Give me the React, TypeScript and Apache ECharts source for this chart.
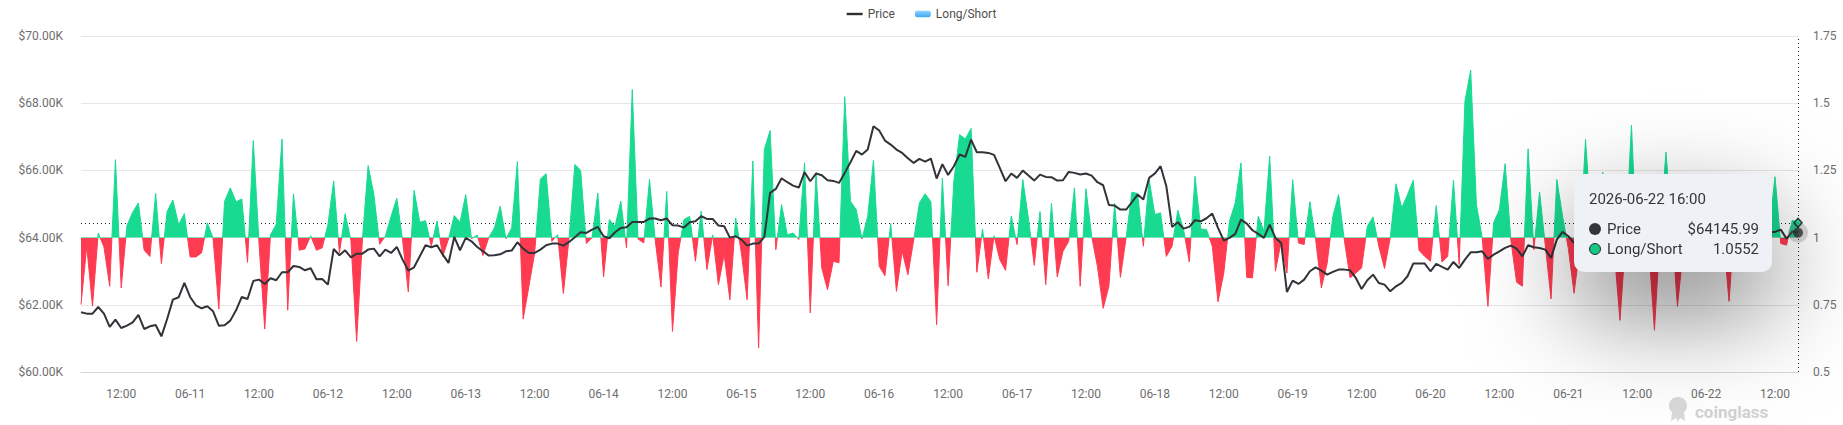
import React, { useEffect, useRef } from 'react';
import * as echarts from 'echarts';

// ---------- data ----------
const START_UTC = Date.UTC(2026, 5, 10, 5, 0); // first hourly point: 2026-06-10 05:00
const POINT_COUNT = 300;

const pad2 = (n: number) => (n < 10 ? '0' + n : '' + n);
function buildHourCategories(startUtc: number, count: number): string[] {
  const out: string[] = [];
  for (let i = 0; i < count; i++) {
    const d = new Date(startUtc + i * 3600 * 1000);
    out.push(
      `${d.getUTCFullYear()}-${pad2(d.getUTCMonth() + 1)}-${pad2(d.getUTCDate())} ${pad2(d.getUTCHours())}:00`
    );
  }
  return out;
}
const categories = buildHourCategories(START_UTC, POINT_COUNT);

const priceValues = [
  61776, 61737, 61737, 61935, 61737, 61340, 61558, 61310, 61380, 61479,
  61697, 61280, 61360, 61400, 61062, 61578, 62154, 62224, 62650, 62233,
  61985, 61896, 61955, 61806, 61380, 61390, 61529, 61836, 62233, 62174,
  62710, 62749, 62620, 62789, 62730, 62968, 62968, 63156, 63126, 63027,
  63087, 62760, 62770, 62600, 63662, 63474, 63623, 63414, 63523, 63523,
  63643, 63672, 63444, 63643, 63543, 63722, 63345, 63017, 63116, 63444,
  63772, 63712, 63772, 63494, 63246, 64020, 63623, 63990, 63891, 63722,
  63593, 63464, 63474, 63504, 63593, 63613, 63861, 63672, 63543, 63543,
  63643, 63772, 63821, 63821, 63762, 63871, 64010, 64159, 64139, 64238,
  64318, 64040, 63980, 64159, 64288, 64308, 64467, 64467, 64467, 64566,
  64566, 64516, 64566, 64367, 64357, 64298, 64457, 64486, 64635, 64556,
  64556, 64357, 64337, 64000, 64040, 63940, 63762, 63821, 63821, 64020,
  65330, 65449, 65767, 65648, 65548, 65489, 65946, 65677, 65906, 65856,
  65707, 65687, 65628, 65926, 66243, 66581, 66472, 66620, 67315, 67186,
  66888, 66769, 66620, 66521, 66362, 66223, 66343, 66263, 66352, 65757,
  66184, 65866, 66124, 66472, 66402, 66918, 66541, 66541, 66521, 66462,
  66074, 65677, 65906, 65777, 65995, 65846, 65697, 65876, 65806, 65797,
  65697, 65707, 65955, 65926, 65876, 65906, 65846, 65648, 65558, 64973,
  64953, 64834, 64834, 65052, 65280, 65131, 65777, 65906, 66124, 65529,
  64318, 64457, 64268, 64318, 64516, 64486, 64576, 64715, 64288, 63911,
  63990, 64109, 64536, 64417, 64218, 64109, 63990, 64387, 63990, 63841,
  62382, 62720, 62620, 62749, 62998, 63116, 63017, 62898, 62978, 63047,
  63047, 63027, 62800, 62471, 62730, 62898, 62650, 62600, 62402, 62551,
  62650, 62849, 63226, 63226, 63226, 62998, 63216, 63126, 63047, 63275,
  63097, 63345, 63563, 63563, 63593, 63365, 63494, 63593, 63692, 63762,
  63672, 63444, 63772, 63712, 63692, 63643, 63395, 63940, 64169, 64040,
  63841, 63950, 64080, 64020, 64150, 64230, 64120, 64050, 63890, 64010,
  64180, 64260, 64210, 64120, 63980, 64060, 64190, 64280, 64150, 64070,
  64110, 64220, 64300, 64260, 64170, 64090, 64140, 64030, 64110, 64200,
  64160, 64090, 64130, 64210, 64170, 64170, 64238, 63970, 64180, 64145.99,
];

const longShortValues = [
  0.751, 0.968, 0.745, 1.017, 0.965, 0.819, 1.29, 0.813, 1.045, 1.094,
  1.129, 0.953, 0.93, 1.164, 0.903, 1.097, 1.14, 1.048, 1.089, 0.928,
  0.928, 0.943, 1.055, 0.998, 0.734, 1.135, 1.185, 1.133, 1.144, 0.908,
  1.361, 0.98, 0.66, 1.01, 1.05, 1.367, 0.73, 1.163, 0.953, 0.958,
  1.007, 0.953, 0.962, 1.048, 1.211, 0.943, 1.089, 0.99, 0.614, 0.99,
  1.268, 1.16, 0.975, 1.005, 1.079, 1.146, 0.99, 0.798, 1.176, 1.057,
  1.063, 0.968, 1.062, 0.93, 0.995, 1.082, 1.057, 1.16, 0.996, 1.009,
  0.933, 1.0, 1.036, 1.117, 0.996, 1.036, 1.283, 0.697, 0.819, 0.943,
  1.218, 1.238, 0.986, 1.011, 0.792, 1.0, 1.272, 1.251, 0.978, 1.0,
  1.166, 0.854, 1.067, 1.042, 1.136, 0.962, 1.551, 0.995, 0.98, 1.216,
  0.99, 0.816, 1.172, 0.651, 0.943, 1.067, 1.079, 0.912, 1.098, 0.881,
  1.01, 0.825, 0.937, 0.769, 1.073, 0.943, 0.769, 1.285, 0.589, 1.328,
  1.398, 0.955, 1.123, 1.01, 1.017, 0.993, 1.278, 0.72, 1.241, 0.887,
  0.806, 0.912, 0.906, 1.524, 1.135, 1.104, 0.995, 1.079, 1.287, 0.893,
  0.858, 1.052, 0.8, 0.949, 0.862, 0.99, 1.129, 1.163, 1.133, 0.676,
  1.22, 0.821, 1.21, 1.383, 1.367, 1.406, 0.871, 1.032, 0.846, 1.007,
  0.918, 0.878, 1.08, 0.974, 1.216, 1.07, 0.897, 1.097, 0.825, 1.127,
  0.854, 0.949, 0.986, 1.185, 0.819, 1.182, 1.005, 0.893, 0.737, 0.819,
  1.127, 0.852, 1.0, 1.169, 1.164, 0.968, 1.216, 1.086, 1.092, 0.93,
  0.968, 1.102, 1.03, 0.909, 1.228, 1.032, 1.03, 0.968, 0.761, 0.868,
  1.061, 1.129, 1.278, 0.852, 0.85, 1.079, 1.024, 1.303, 0.875, 0.986,
  0.868, 1.216, 0.98, 0.974, 1.134, 0.993, 0.813, 0.903, 1.079, 1.16,
  0.99, 0.85, 0.868, 0.887, 1.042, 1.077, 0.968, 0.885, 1.0, 1.2,
  1.11, 1.16, 1.213, 0.953, 0.93, 0.912, 1.119, 0.909, 0.93, 1.213,
  0.9, 1.507, 1.623, 1.123, 1.0, 0.744, 1.055, 1.104, 1.275, 0.99,
  0.834, 0.819, 1.33, 0.955, 1.17, 0.97, 0.772, 1.216, 1.08, 0.96,
  0.793, 0.96, 1.365, 1.05, 0.93, 1.243, 1.08, 0.95, 0.692, 1.0,
  1.418, 0.94, 1.06, 0.97, 0.655, 1.02, 1.318, 1.05, 0.744, 0.95,
  1.1, 1.04, 0.93, 1.12, 0.97, 1.06, 1.0, 0.763, 1.08, 0.94,
  1.15, 0.98, 1.1, 0.92, 1.03, 1.2265, 0.978, 0.972, 1.065, 1.0552,
];

const seriesNames = ['Price', 'Long/Short'];
const priceAxisTicks = { min: 60000, max: 70000, interval: 2000 };
const ratioAxisTicks = { min: 0.5, max: 1.75, interval: 0.25 };
const LS_THRESHOLD = 1;
const HOVER_INDEX = POINT_COUNT - 1;

// ---------- styles ----------
const GREEN = '#16c784';
const RED = '#f5364a';
const PRICE_COLOR = '#2d2f33';
const LABEL_COLOR = '#6e6e6e';
const FONT = 'Roboto, "Noto Sans", sans-serif';

const LOGO_PATH =
  'M10 0C4 0 1 4 1 9C1 12 2 14 4 15L3 24L8 21L10 25L12 21L17 24L16 15C18 14 19 12 19 9C19 4 16 0 10 0Z';

export default function App() {
  const ref = useRef<HTMLDivElement | null>(null);

  useEffect(() => {
    if (!ref.current) return;
    const chart = echarts.init(ref.current, undefined, { renderer: 'svg' });

    const lsGradient = new echarts.graphic.LinearGradient(0, 0, 0, 1, [
      { offset: 0, color: '#8fd3ff' },
      { offset: 1, color: '#3fa6f6' },
    ]);

    const markerSeries = (name: string, yIdx: number, value: number, symbol: string, size: any, itemStyle: any, z: number) => ({
      name,
      type: 'scatter',
      yAxisIndex: yIdx,
      data: [[HOVER_INDEX, value]],
      symbol,
      symbolSize: size,
      itemStyle,
      z,
      silent: true,
      tooltip: { show: false },
      emphasis: { disabled: true },
    });

    const option: any = {
      animation: false,
      backgroundColor: '#ffffff',
      textStyle: { fontFamily: FONT },
      legend: {
        top: 3,
        left: 'center',
        itemWidth: 16,
        itemHeight: 8,
        itemGap: 20,
        selectedMode: false,
        textStyle: { color: '#4f4f4f', fontSize: 12, fontFamily: FONT },
        data: [
          {
            name: seriesNames[0],
            icon: 'path://M0 0H16V2.4H0Z',
            itemStyle: { color: PRICE_COLOR, borderWidth: 0 },
          },
          {
            name: seriesNames[1],
            icon: 'path://M2 0H13Q15 0 15 2V4Q15 6 13 6H2Q0 6 0 4V2Q0 0 2 0Z',
            itemStyle: { color: lsGradient, borderWidth: 0 },
          },
        ],
      },
      grid: { left: 81, right: 45, top: 36, bottom: 53, containLabel: false },
      tooltip: {
        trigger: 'axis',
        triggerOn: 'none',
        alwaysShowContent: true,
        transitionDuration: 0,
        showDelay: 0,
        position: () => [1574, 174],
        backgroundColor: '#eef1f5',
        borderWidth: 0,
        borderRadius: 10,
        padding: [15, 13, 13, 15],
        extraCssText: 'box-shadow: 0 40px 100px rgba(0,0,0,0.5); border-radius: 10px;',
        axisPointer: {
          type: 'cross',
          z: 1,
          crossStyle: { color: '#222', width: 1, type: [1, 3] },
          lineStyle: { color: '#222', width: 1, type: [1, 3] },
          label: { show: false },
        },
        formatter: (params: any) => {
          const list = Array.isArray(params) ? params : [params];
          const title = list[0].axisValue;
          const p = list.find((x: any) => x.seriesName === seriesNames[0]);
          const l = list.find((x: any) => x.seriesName === seriesNames[1]);
          const dot = (fill: string, border: string) =>
            `<span style="display:inline-block;box-sizing:border-box;width:12px;height:12px;border-radius:50%;background:${fill};border:${border};margin-right:6px;"></span>`;
          const row = (marker: string, name: string, val: string) =>
            `<div style="display:flex;justify-content:space-between;align-items:center;height:20px;">` +
            `<span style="display:flex;align-items:center;">${marker}<span>${name}</span></span><span>${val}</span></div>`;
          return (
            `<div style="width:170px;font-family:Roboto,'Noto Sans',sans-serif;font-size:15px;line-height:20px;color:#33363b;">` +
            `<div style="height:20px;margin-bottom:10px;">${title}</div>` +
            row(dot('#33353a', 'none'), seriesNames[0], '$' + Number(p ? p.value : 0).toFixed(2)) +
            row(dot(GREEN, '1.5px solid #2a2c30'), seriesNames[1], Number(l ? l.value : 0).toFixed(4)) +
            `</div>`
          );
        },
      },
      xAxis: {
        type: 'category',
        data: categories,
        boundaryGap: false,
        axisLine: { lineStyle: { color: '#d8d8d8', width: 1 } },
        axisTick: { show: false },
        splitLine: { show: false },
        axisLabel: {
          color: LABEL_COLOR,
          fontSize: 12,
          fontFamily: FONT,
          margin: 16,
          interval: (_i: number, v: string) => {
            const t = v.slice(11);
            return t === '00:00' || t === '12:00';
          },
          formatter: (v: string) => (v.slice(11) === '00:00' ? v.slice(5, 10) : v.slice(11)),
        },
      },
      yAxis: [
        {
          type: 'value',
          position: 'left',
          min: priceAxisTicks.min,
          max: priceAxisTicks.max,
          interval: priceAxisTicks.interval,
          axisLine: { show: false },
          axisTick: { show: false },
          splitLine: { show: true, lineStyle: { color: '#e6e6e6', width: 1 } },
          axisLabel: {
            color: LABEL_COLOR,
            fontSize: 12,
            fontFamily: FONT,
            margin: 18,
            formatter: (v: number) => '$' + (v / 1000).toFixed(2) + 'K',
          },
        },
        {
          type: 'value',
          position: 'right',
          min: ratioAxisTicks.min,
          max: ratioAxisTicks.max,
          interval: ratioAxisTicks.interval,
          axisLine: { show: false },
          axisTick: { show: false },
          splitLine: { show: false },
          axisLabel: { color: LABEL_COLOR, fontSize: 12, fontFamily: FONT, margin: 15 },
        },
      ],
      visualMap: [
        {
          type: 'piecewise',
          show: false,
          seriesIndex: 1,
          dimension: 1,
          pieces: [
            { gte: 0, lte: LS_THRESHOLD, color: RED },
            { gt: LS_THRESHOLD, lte: 5, color: GREEN },
          ],
          outOfRange: { color: GREEN },
        },
      ],
      series: [
        {
          name: seriesNames[0],
          type: 'line',
          yAxisIndex: 0,
          data: priceValues,
          symbol: 'none',
          showSymbol: false,
          z: 3,
          lineStyle: { color: PRICE_COLOR, width: 2 },
          itemStyle: { color: PRICE_COLOR },
        },
        {
          name: seriesNames[1],
          type: 'line',
          yAxisIndex: 1,
          data: longShortValues,
          symbol: 'none',
          showSymbol: false,
          z: 2,
          lineStyle: { width: 1 },
          areaStyle: { origin: LS_THRESHOLD, opacity: 1 },
        },
        markerSeries('priceHalo', 0, priceValues[HOVER_INDEX], 'circle', 20, { color: 'rgba(110,110,115,0.32)' }, 5),
        markerSeries('priceDot', 0, priceValues[HOVER_INDEX], 'circle', 10, { color: '#303236' }, 6),
        markerSeries('lsDiamond', 1, longShortValues[HOVER_INDEX], 'diamond', [8, 9], { color: GREEN, borderColor: '#111', borderWidth: 1.5 }, 7),
      ],
    };

    chart.setOption(option);

    try {
      chart.dispatchAction({ type: 'showTip', seriesIndex: 1, dataIndex: HOVER_INDEX });
    } catch (e) {
      console.error(e);
    }

    return () => {
      chart.dispose();
    };
  }, []);

  return (
    <div style={{ position: 'absolute', left: 0, top: 0, width: 1843, height: 425, background: '#fff' }}>
      <div ref={ref} style={{ position: 'absolute', left: 0, top: 0, width: 1843, height: 425 }} />
      <div
        style={{
          position: 'absolute',
          left: 1668,
          top: 396,
          height: 26,
          display: 'flex',
          alignItems: 'center',
          pointerEvents: 'none',
          zIndex: 1,
        }}
      >
        <svg width="20" height="25" viewBox="0 0 20 25" style={{ display: 'block', marginRight: 7 }}>
          <path d={LOGO_PATH} fill="#d9d9d9" />
        </svg>
        <span
          style={{
            fontFamily: FONT,
            fontWeight: 700,
            fontSize: 17,
            color: '#d2d2d2',
            lineHeight: '16px',
            marginTop: 6,
          }}
        >
          coinglass
        </span>
      </div>
    </div>
  );
}
